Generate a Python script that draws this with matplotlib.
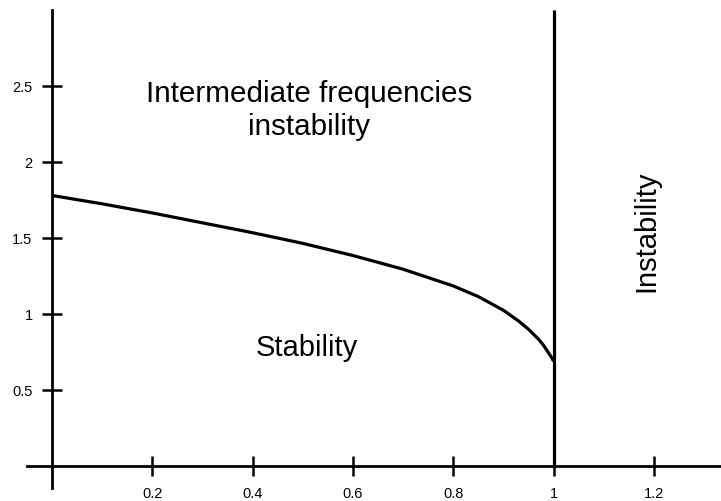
import matplotlib
matplotlib.use('Agg')
import matplotlib.pyplot as plt

plt.rcParams['font.family'] = ['Liberation Sans', 'DejaVu Sans']

# boundary curve
curve_x = [0, 0.1, 0.2, 0.3, 0.4, 0.5, 0.6, 0.7, 0.8, 0.85, 0.9, 0.93, 0.95, 0.97, 0.98, 0.99, 0.997, 1.0]
curve_y = [1.78, 1.725, 1.665, 1.60, 1.535, 1.465, 1.385, 1.295, 1.185, 1.115, 1.025, 0.955, 0.90,
           0.835, 0.795, 0.745, 0.71, 0.69]
# vertical boundary at x = 1
vline_x = [1.0, 1.0]
vline_y = [0.0, 3.0]

xticks = [0.2, 0.4, 0.6, 0.8, 1.0, 1.2]
xtick_labels = ['0.2', '0.4', '0.6', '0.8', '1', '1.2']
yticks = [0.5, 1.0, 1.5, 2.0, 2.5]
ytick_labels = ['0.5', '1', '1.5', '2', '2.5']

fig = plt.figure(figsize=(7.21, 5.01), dpi=100)
ax = fig.add_axes([0, 0, 1, 1])
ax.set_xlim(-0.1037, 1.334)
ax.set_ylim(-0.230, 3.066)

ax.plot(curve_x, curve_y, color='black', lw=2.3, solid_capstyle='butt', solid_joinstyle='round')
ax.plot(vline_x, vline_y, color='black', lw=2.3, solid_capstyle='butt')

# axes through the origin
for s in ['top', 'right']:
    ax.spines[s].set_visible(False)
ax.spines['left'].set_position(('data', 0))
ax.spines['bottom'].set_position(('data', 0))
ax.spines['left'].set_bounds(-0.145, 3.0)
ax.spines['bottom'].set_bounds(-0.05, 1.334)
ax.spines['left'].set_linewidth(2.0)
ax.spines['bottom'].set_linewidth(2.0)

ax.set_xticks(xticks)
ax.set_xticklabels(xtick_labels)
ax.set_yticks(yticks)
ax.set_yticklabels(ytick_labels)
ax.tick_params(direction='inout', length=15, width=1.8, labelsize=10.5)
ax.tick_params(axis='x', pad=7.5)
ax.tick_params(axis='y', pad=6.5)

ax.text(0.5123, 2.34, 'Intermediate frequencies\ninstability', ha='center', va='center',
        fontsize=21.3, linespacing=1.2)
ax.text(0.508, 0.775, 'Stability', ha='center', va='center', fontsize=21)
ax.text(1.186, 1.545, 'Instability', ha='center', va='center', rotation=90, fontsize=21)

fig.savefig('out.png', dpi=100)
